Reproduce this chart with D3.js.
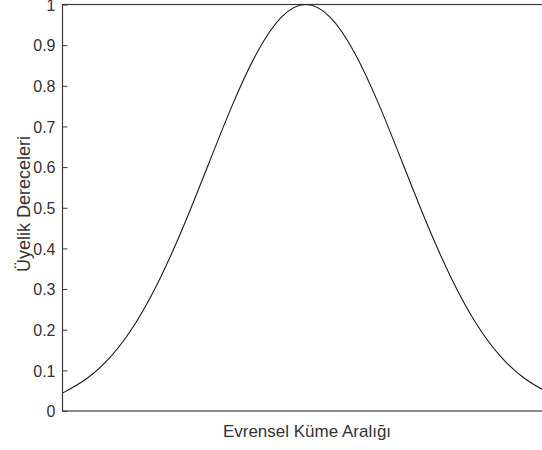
<!DOCTYPE html>
<html>
<head>
<meta charset="utf-8">
<script src="https://cdn.jsdelivr.net/npm/d3@7"></script>
<style>
    body { margin: 0; background: #fff; }
    svg { display: block; font-family: Arial, "Liberation Sans", Helvetica, sans-serif; }
</style>
</head>
<body>
<div id="chart"></div>
<script>
// membership curve (x across the universe 0..10)
const xValues = [0, 0.5, 1, 1.5, 2, 2.5, 3, 3.5, 4, 4.5, 5, 5.5, 6, 6.5, 7, 7.5, 8, 8.5, 9, 9.5, 10];
const yValues = [0.044, 0.080, 0.135, 0.216, 0.325, 0.458, 0.607, 0.755, 0.882, 0.969, 1.0,
    0.969, 0.882, 0.755, 0.607, 0.458, 0.325, 0.216, 0.135, 0.080, 0.044];
const yTicks = [0, 0.1, 0.2, 0.3, 0.4, 0.5, 0.6, 0.7, 0.8, 0.9, 1];
const xLabel = "Evrensel Küme Aralığı";
const yLabel = "Üyelik Dereceleri";

const width = 542;
const height = 450;
const plot = { left: 62.5, right: 549, top: 4.5, bottom: 411 };

const svg = d3.select("#chart")
    .append("svg")
    .attr("width", width)
    .attr("height", height);

const x = d3.scaleLinear().domain([0, 10]).range([plot.left, plot.right]);
const y = d3.scaleLinear().domain([0, 1]).range([plot.bottom, plot.top]);

// box
svg.append("rect")
    .attr("x", plot.left)
    .attr("y", plot.top)
    .attr("width", plot.right - plot.left)
    .attr("height", plot.bottom - plot.top)
    .attr("fill", "none")
    .attr("stroke", "#3a3a3a")
    .attr("stroke-width", 1.2);

// left axis, ticks pointing inside
const yAxis = d3.axisRight(y)
    .tickValues(yTicks)
    .tickSize(5)
    .tickFormat(d3.format("~g"));

const yg = svg.append("g")
    .attr("transform", `translate(${plot.left},0)`)
    .call(yAxis);
yg.select(".domain").remove();
yg.selectAll(".tick line").attr("stroke", "#3a3a3a");
yg.selectAll(".tick text")
    .attr("x", -7)
    .attr("dy", "0.36em")
    .attr("text-anchor", "end")
    .attr("fill", "#333")
    .style("font-size", "16px")
    .style("font-family", "Arial, 'Liberation Sans', sans-serif");

// curve
const points = xValues.map((v, i) => [v, yValues[i]]);
svg.append("path")
    .datum(points)
    .attr("fill", "none")
    .attr("stroke", "#1a1a1a")
    .attr("stroke-width", 1.1)
    .attr("d", d3.line()
        .x((d) => x(d[0]))
        .y((d) => y(d[1]))
        .curve(d3.curveNatural));

// axis labels
svg.append("text")
    .attr("x", 307)
    .attr("y", 437)
    .attr("text-anchor", "middle")
    .attr("fill", "#333")
    .style("font-size", "17px")
    .text(xLabel);

svg.append("text")
    .attr("transform", "translate(29.5,204) rotate(-90)")
    .attr("text-anchor", "middle")
    .attr("fill", "#333")
    .style("font-size", "18px")
    .text(yLabel);
</script>
</body>
</html>
